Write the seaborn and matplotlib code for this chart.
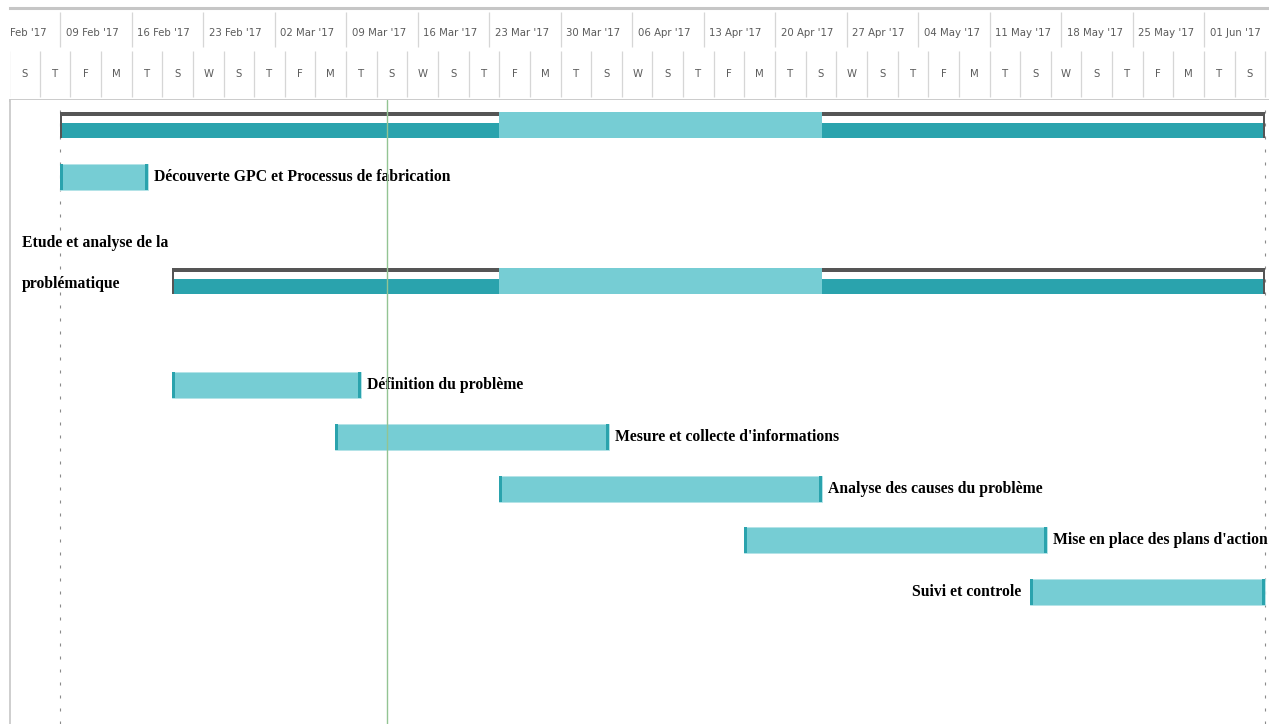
import os
import numpy as np
import pandas as pd
import matplotlib
matplotlib.use("Agg")
import matplotlib.pyplot as plt
import matplotlib.dates as mdates
from matplotlib import font_manager as fm
import seaborn as sns

# ---------------- data ----------------
task_names = ["",
              "Découverte GPC et Processus de fabrication",
              "Etude et analyse de la\nproblématique",
              "Définition du problème",
              "Mesure et collecte d'informations",
              "Analyse des causes du problème",
              "Mise en place des plans d'action",
              "Suivi et controle"]
task_rows = [0, 1, 3, 5, 6, 7, 8, 9]
task_kind = ["summary", "task", "summary", "task", "task", "task", "task", "task"]
task_start = ["2017-02-09", "2017-02-09", "2017-02-20", "2017-02-20",
              "2017-03-07 22:00", "2017-03-24", "2017-04-17", "2017-05-15"]
task_end = ["2017-06-07", "2017-02-17 14:00", "2017-06-07", "2017-03-10 10:00",
            "2017-04-03 18:00", "2017-04-24 14:00", "2017-05-16 15:00", "2017-06-07"]
label_side = ["none", "right", "left", "right", "right", "right", "right", "left"]

highlight_start = "2017-03-24"
highlight_end = "2017-04-24 14:00"
project_start = "2017-02-09"
project_finish = "2017-06-07"
status_date = "2017-03-13"

week_labels = ["02 Feb '17", "09 Feb '17", "16 Feb '17", "23 Feb '17", "02 Mar '17",
               "09 Mar '17", "16 Mar '17", "23 Mar '17", "30 Mar '17", "06 Apr '17",
               "13 Apr '17", "20 Apr '17", "27 Apr '17", "04 May '17", "11 May '17",
               "18 May '17", "25 May '17", "01 Jun '17"]
day_tier_start = "2017-02-04"
view_start = "2017-02-04 02:13"
view_end = "2017-06-07 08:45"

# ---------------- style ----------------
sns.set_theme(style="white")
W, H = 1269, 724
fig = plt.figure(figsize=(W / 100, H / 100), dpi=100)
renderer = fig.canvas.get_renderer()

ttf_files = [f.fname for f in fm.fontManager.ttflist]


def font_file(names):
    for n in names:
        for f in ttf_files:
            if os.path.basename(f).lower() == n.lower():
                return f
    return None


lab_file = font_file(["LiberationSerif-Bold.ttf", "DejaVuSerifCondensed-Bold.ttf"])
hdr_file = font_file(["LiberationSansNarrow-Regular.ttf", "DejaVuSansCondensed.ttf",
                      "LiberationSans-Regular.ttf"])
lab_prop = fm.FontProperties(fname=lab_file) if lab_file else fm.FontProperties(family="Liberation Serif", weight="bold")
hdr_prop = fm.FontProperties(fname=hdr_file) if hdr_file else fm.FontProperties(family="Liberation Sans")


def fit_size(prop, text, target_px):
    p = prop.copy()
    p.set_size(10)
    w, h, d = renderer.get_text_width_height_descent(text, p, ismath=False)
    return 10 * target_px / w


lab_prop.set_size(fit_size(lab_prop, "Découverte GPC et Processus de fabrication", 297))
hdr_prop.set_size(fit_size(hdr_prop, "16 Mar '17", 54))

LIGHT = "#76cdd4"
DARK = "#2aa3ad"
GREY = "#555555"
LINE = "#c6c6c6"

x0 = mdates.date2num(pd.Timestamp(view_start))
x1 = mdates.date2num(pd.Timestamp(view_end))
px_per_day = (W - 10) / (x1 - x0)

# ---------------- header ----------------
ax_h = fig.add_axes([10 / W, (H - 100) / H, (W - 10) / W, 92 / H])
ax_h.set_xlim(x0, x1)
ax_h.set_ylim(100, 8)
ax_h.set_xticks([])
ax_h.set_yticks([])
for s in ["left", "right"]:
    ax_h.spines[s].set_visible(False)
ax_h.spines["top"].set_color(LINE)
ax_h.spines["top"].set_linewidth(2.2)
ax_h.spines["bottom"].set_color(LINE)
ax_h.spines["bottom"].set_linewidth(2.0)

week_dates = pd.to_datetime(week_labels, format="%d %b '%y")
wn = mdates.date2num(week_dates)
ax_h.vlines(wn, 12, 47, color="#d6d6d6", lw=0.9)
for xv, lab in zip(wn, week_labels):
    ax_h.annotate(lab, xy=(xv, 33), xytext=(4, 0), textcoords="offset points",
                  ha="left", va="center", color="#5b5b5b", fontproperties=hdr_prop,
                  annotation_clip=False, clip_on=True)

day_dates = pd.date_range(day_tier_start, view_end, freq="3D")
dn = mdates.date2num(day_dates)
ax_h.vlines(dn, 51, 97, color="#d6d6d6", lw=0.9)
for xv, d in zip(dn, day_dates):
    if xv + 1.5 + 0.6 < x1:
        ax_h.text(xv + 1.5, 74, d.strftime("%a")[0], ha="center", va="center",
                  color="#5b5b5b", fontproperties=hdr_prop, clip_on=True)

# ---------------- body ----------------
ax = fig.add_axes([10 / W, 0, (W - 10) / W, (H - 100) / H])
ax.set_xlim(x0, x1)
row_px = 51.9
ax.set_ylim((724 - 125.25) / row_px, (100 - 125.25) / row_px)
ax.set_xticks([])
ax.set_yticks([])
for s in ["top", "right", "bottom"]:
    ax.spines[s].set_visible(False)
ax.spines["left"].set_color(LINE)
ax.spines["left"].set_linewidth(1.2)

u = 1 / row_px  # one pixel in row units
bar_h = 26 * u
cap_w = 3 / px_per_day

ps = mdates.date2num(pd.Timestamp(project_start))
pf = mdates.date2num(pd.Timestamp(project_finish))
for xv in (ps, pf):
    ax.axvline(xv, color="#8a8a8a", lw=0.8, dashes=(2.7, 9), zorder=1)

hs = mdates.date2num(pd.Timestamp(highlight_start))
he = mdates.date2num(pd.Timestamp(highlight_end))

for name, row, kind, s, e, side in zip(task_names, task_rows, task_kind,
                                       task_start, task_end, label_side):
    xs = mdates.date2num(pd.Timestamp(s))
    xe = mdates.date2num(pd.Timestamp(e))
    if kind == "summary":
        ax.barh(row - 11 * u, xe - xs, left=xs, height=4 * u, color=GREY, lw=0, zorder=3)
        ax.barh(row + 5.5 * u, xe - xs, left=xs, height=15 * u, color=DARK, lw=0, zorder=3)
        ax.barh(row, he - hs, left=hs, height=bar_h, color=LIGHT, lw=0, zorder=4)
        for xc in (xs, xe - 2 / px_per_day):
            ax.barh(row, 2 / px_per_day, left=xc, height=bar_h, color=GREY, lw=0, zorder=5)
    else:
        ax.barh(row, xe - xs, left=xs, height=bar_h, color=LIGHT,
                edgecolor="#b3e3e7", lw=0.6, zorder=3)
        ax.barh(row, cap_w, left=xs, height=bar_h, color=DARK, lw=0, zorder=4)
        ax.barh(row, cap_w, left=xe - cap_w, height=bar_h, color=DARK, lw=0, zorder=4)

    if side == "right":
        ax.annotate(name, xy=(xe, row), xytext=(4.5, 0), textcoords="offset points",
                    ha="left", va="center", color="black", fontproperties=lab_prop, zorder=6)
    elif side == "left":
        if "\n" in name:
            # line spacing so that the two lines sit ~41 px apart
            _, lph, lpd = renderer.get_text_width_height_descent("lp", lab_prop, ismath=False)
            _, h2, d2 = renderer.get_text_width_height_descent(name.split("\n")[1], lab_prop, ismath=False)
            _, h1, d1 = renderer.get_text_width_height_descent(name.split("\n")[0], lab_prop, ismath=False)
            h2 = max(h2, lph)
            d1 = max(d1, lpd)
            ls = (41 - d1) / (h2 - max(d2, lpd))
            ax.annotate(name, xy=(xs, row), xytext=(-3, 17 * 0.72), textcoords="offset points",
                        ha="right", va="center", multialignment="left", linespacing=ls,
                        color="black", fontproperties=lab_prop, zorder=6)
        else:
            ax.annotate(name, xy=(xs, row), xytext=(-6.5, 0), textcoords="offset points",
                        ha="right", va="center", color="black", fontproperties=lab_prop, zorder=6)

sd = mdates.date2num(pd.Timestamp(status_date))
ax.axvline(sd, color="#93c493", lw=1.0, zorder=7)

fig.savefig("out.png", dpi=100)
